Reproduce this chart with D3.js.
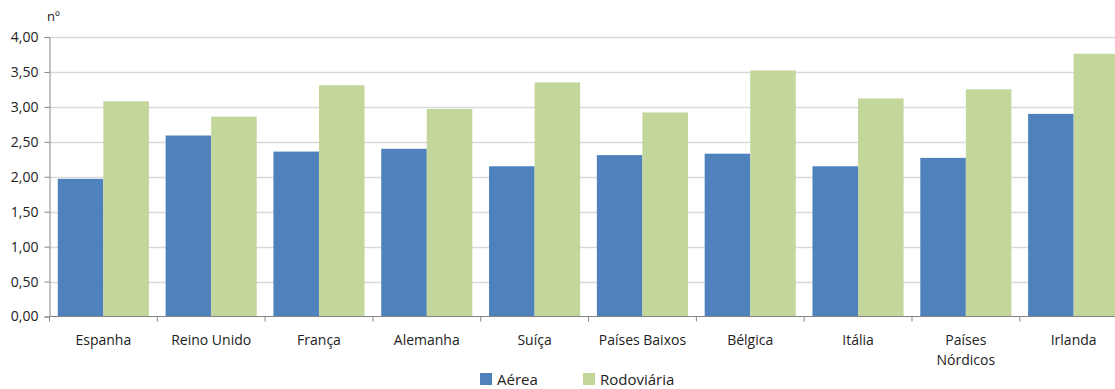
<!DOCTYPE html>
<html lang="pt">
<head>
<meta charset="utf-8">
<title>Aérea vs Rodoviária</title>
<script src="https://d3js.org/d3.v7.min.js"></script>
<style>
  body { margin: 0; background: #fff; }
  svg text { font-family: "Open Sans", "Noto Sans", sans-serif; fill: #222; }
</style>
</head>
<body>
<script>
var categories = ["Espanha", "Reino Unido", "França", "Alemanha", "Suíça",
                  "Países Baixos", "Bélgica", "Itália", "Países Nórdicos", "Irlanda"];
var aerea      = [1.97, 2.59, 2.36, 2.40, 2.15, 2.31, 2.33, 2.15, 2.27, 2.90];
var rodoviaria = [3.08, 2.86, 3.31, 2.97, 3.35, 2.92, 3.52, 3.12, 3.25, 3.76];
var seriesNames = ["Aérea", "Rodoviária"];
var yTicks = [0, 0.5, 1, 1.5, 2, 2.5, 3, 3.5, 4];

var colors = ["#4f81bd", "#c3d69b"];
var width = 1115, height = 389;
var margin = { left: 49.5, top: 37, bottom: 72 };
var plotW = 1078;

var svg = d3.select("body").append("svg")
    .attr("width", width)
    .attr("height", height);

var x = d3.scaleBand()
    .domain(categories)
    .range([margin.left, margin.left + plotW])
    .paddingInner(0.155)
    .paddingOuter(0.077);

var y = d3.scaleLinear()
    .domain([0, 4])
    .range([height - margin.bottom - 0.5, margin.top]);

var xSub = d3.scaleBand()
    .domain(seriesNames)
    .range([0, x.bandwidth()]);

// gridlines
svg.append("g")
    .selectAll("line")
    .data(yTicks.filter(function (d) { return d > 0; }))
    .enter().append("line")
    .attr("x1", margin.left)
    .attr("x2", margin.left + plotW)
    .attr("y1", function (d) { return Math.round(y(d)) + 0.5; })
    .attr("y2", function (d) { return Math.round(y(d)) + 0.5; })
    .attr("stroke", "#d9d9d9")
    .attr("stroke-width", 1.5);

// bars
var rows = categories.map(function (c, i) {
    return { cat: c, values: [aerea[i], rodoviaria[i]] };
});

var group = svg.append("g").selectAll("g")
    .data(rows)
    .enter().append("g")
    .attr("transform", function (d) { return "translate(" + x(d.cat) + ",0)"; });

group.selectAll("rect")
    .data(function (d) {
        return d.values.map(function (v, j) { return { s: seriesNames[j], v: v, j: j }; });
    })
    .enter().append("rect")
    .attr("x", function (d) { return xSub(d.s); })
    .attr("width", xSub.bandwidth())
    .attr("y", function (d) { return y(d.v); })
    .attr("height", function (d) { return y(0) - y(d.v); })
    .attr("fill", function (d) { return colors[d.j]; });

// y axis
var yAxis = d3.axisLeft(y)
    .tickValues(yTicks)
    .tickSize(5)
    .tickPadding(6)
    .tickFormat(function (d) { return d.toFixed(2).replace(".", ","); });

var yg = svg.append("g")
    .attr("transform", "translate(" + margin.left + ",0)")
    .call(yAxis);
yg.select(".domain").attr("stroke", "#868686");
yg.selectAll(".tick line").attr("stroke", "#868686");
yg.selectAll(".tick text")
    .attr("font-size", 14)
    .attr("font-family", "'Open Sans', sans-serif")
    .attr("fill", "#222");

// x axis: ticks at category boundaries
var step = x.step();
var boundaries = d3.range(categories.length + 1).map(function (i) {
    return margin.left + i * step;
});
var base = y(0);
svg.append("line")
    .attr("x1", margin.left).attr("x2", margin.left + plotW)
    .attr("y1", base).attr("y2", base)
    .attr("stroke", "#868686");
svg.append("g").selectAll("line")
    .data(boundaries)
    .enter().append("line")
    .attr("x1", function (d) { return d; })
    .attr("x2", function (d) { return d; })
    .attr("y1", base).attr("y2", base + 5)
    .attr("stroke", "#868686");

var xl = svg.append("g").selectAll("text")
    .data(categories)
    .enter().append("text")
    .attr("x", function (d) { return x(d) + x.bandwidth() / 2; })
    .attr("y", base + 28)
    .attr("text-anchor", "middle")
    .attr("font-size", 14);
xl.each(function (d) {
    var t = d3.select(this);
    var lines = d === "Países Nórdicos" ? ["Países", "Nórdicos"] : [d];
    lines.forEach(function (l, k) {
        t.append("tspan")
            .attr("x", x(d) + x.bandwidth() / 2)
            .attr("dy", k === 0 ? 0 : 20)
            .text(l);
    });
});

// unit label
svg.append("text")
    .attr("x", 47)
    .attr("y", 21)
    .attr("font-size", 13)
    .text("nº");

// legend
var legend = svg.append("g").selectAll("g")
    .data(seriesNames)
    .enter().append("g")
    .attr("transform", function (d, i) { return "translate(" + (480 + i * 103) + ",373)"; });
legend.append("rect")
    .attr("width", 12).attr("height", 12)
    .attr("fill", function (d, i) { return colors[i]; });
legend.append("text")
    .attr("x", 17).attr("y", 12)
    .attr("font-size", 15)
    .text(function (d) { return d; });
</script>
</body>
</html>
